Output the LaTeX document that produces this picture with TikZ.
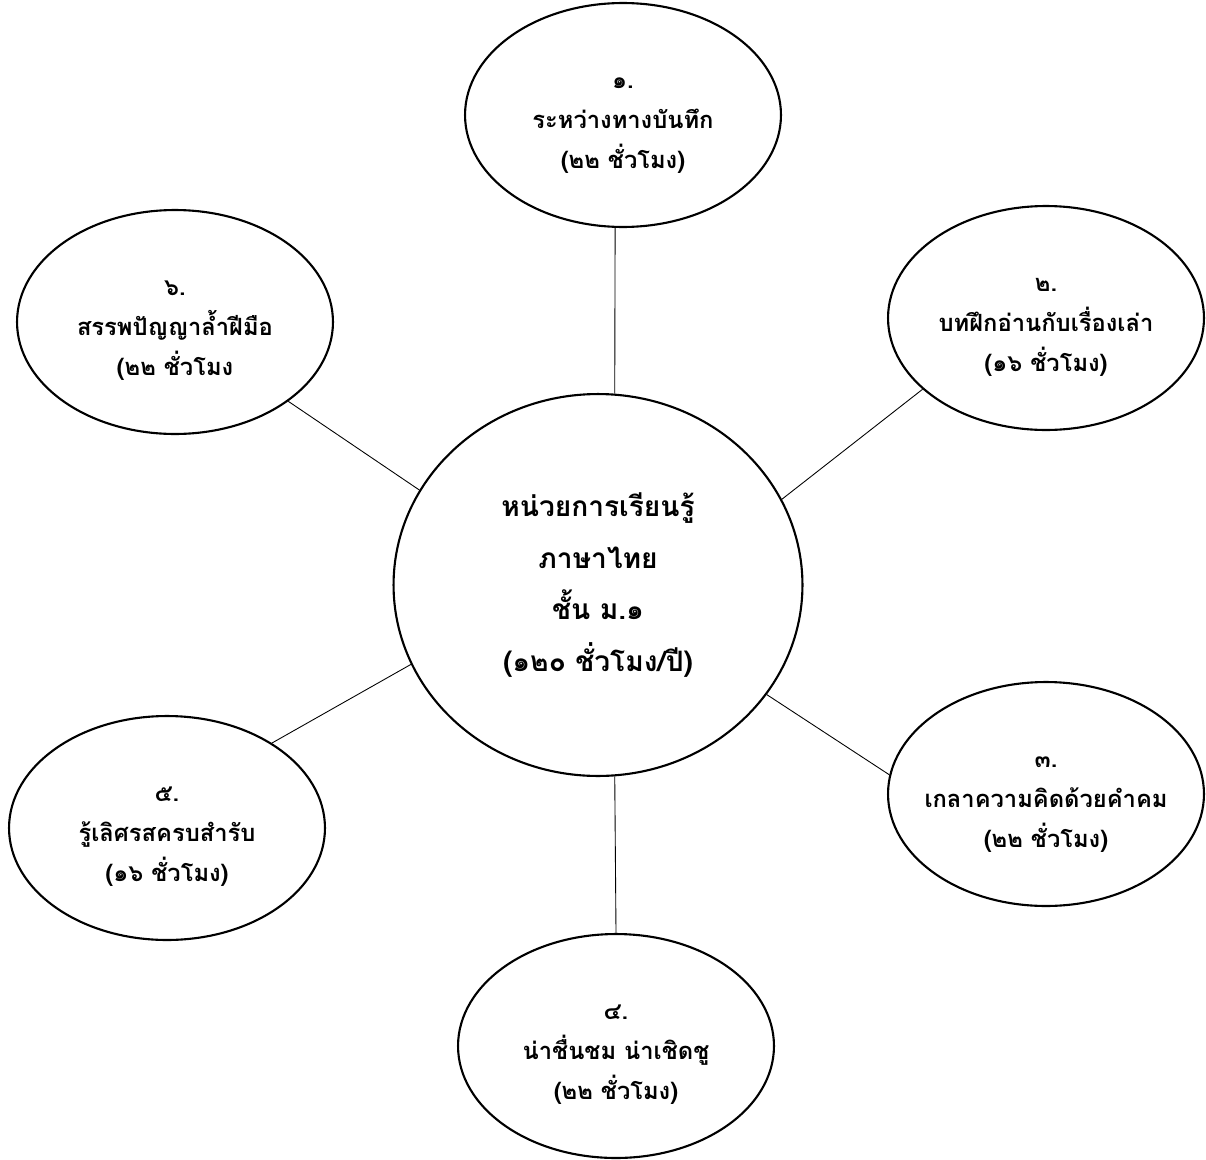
\documentclass[tikz,border=0pt]{standalone}
\usepackage{fontspec}
\setmainfont[Script=Thai]{Loma}
\usetikzlibrary{shapes.geometric}
\tikzstyle{hub_node} = [
    ellipse,
    draw=black,
    line width=1.2pt,
    font=\bfseries\fontsize{16}{29.5}\selectfont,
    align=center,
    inner sep=0pt,
    minimum width=8.18cm,
    minimum height=7.64cm
]
\tikzstyle{unit_node} = [
    ellipse,
    draw=black,
    line width=1.2pt,
    font=\bfseries\fontsize{13.5}{22.7}\selectfont,
    align=center,
    inner ysep=0pt,
    inner xsep=-1.5cm, % keep the long lines from widening the ellipse
    text height=64pt,
    text depth=3.5pt,
    minimum width=6.32cm, % same size for all six units
    minimum height=4.48cm
]
\tikzstyle{link} = [
    draw=black,
    line width=0.5pt
]
\begin{document}
\begin{tikzpicture}[x=0.02cm, y=-0.02cm]
\useasboundingbox (0,0) rectangle (1206,1159);
\node [hub_node] (hub) at (598,585) {หน่วยการเรียนรู้\\ภาษาไทย\\ชั้น ม.๑\\(๑๒๐ ชั่วโมง/ปี)};
\node [unit_node] (u1) at (623,115) {๑.\\ระหว่างทางบันทึก\\(๒๒ ชั่วโมง)};
\node [unit_node] (u2) at (1046,318) {๒.\\บทฝึกอ่านกับเรื่องเล่า\\(๑๖ ชั่วโมง)};
\node [unit_node] (u3) at (1046,794) {๓.\\เกลาความคิดด้วยคำคม\\(๒๒ ชั่วโมง)};
\node [unit_node] (u4) at (616,1046) {๔.\\น่าชื่นชม น่าเชิดชู\\(๒๒ ชั่วโมง)};
\node [unit_node] (u5) at (167,828) {๕.\\รู้เลิศรสครบสำรับ\\(๑๖ ชั่วโมง)};
\node [unit_node] (u6) at (175,322) {๖.\\สรรพปัญญาล้ำฝีมือ\\(๒๒ ชั่วโมง};
% spokes
\draw [link] (hub.85) -- (u1.266);
\draw [link] (hub.25) -- (u2.210);
\draw [link] (hub.327) -- (u3.173);
\draw [link] (hub.275) -- (u4.90);
\draw [link] (hub.203) -- (u5.39);
\draw [link] (hub.152) -- (u6.325);
\end{tikzpicture}
\end{document}
